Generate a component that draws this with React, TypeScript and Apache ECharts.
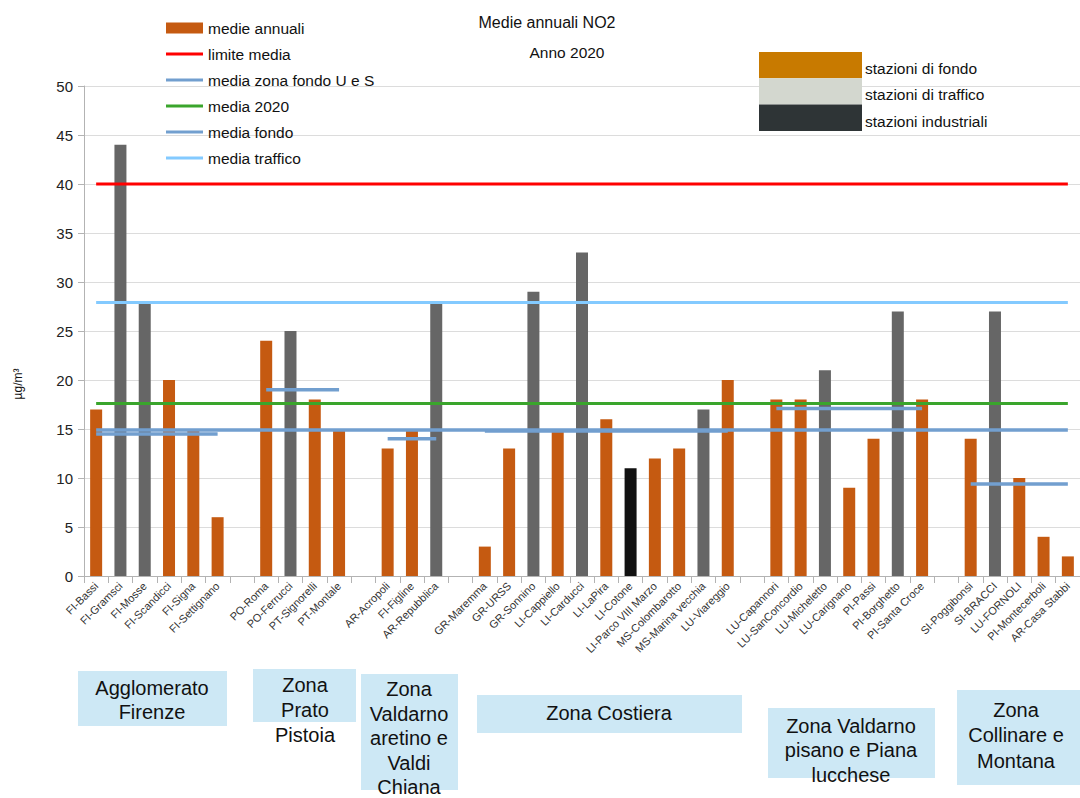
import React, { useEffect, useRef } from "react";
import * as echarts from "echarts";

const FONT = '"Liberation Sans", Arial, sans-serif';

const categories = [
  "FI-Bassi", "FI-Gramsci", "FI-Mosse", "FI-Scandicci", "FI-Signa", "FI-Settignano", "",
  "PO-Roma", "PO-Ferrucci", "PT-Signorelli", "PT-Montale", "",
  "AR-Acropoli", "FI-Figline", "AR-Repubblica", "",
  "GR-Maremma", "GR-URSS", "GR-Sonnino", "LI-Cappiello", "LI-Carducci", "LI-LaPira", "LI-Cotone",
  "LI-Parco VIII Marzo", "MS-Colombarotto", "MS-Marina vecchia", "LU-Viareggio", "",
  "LU-Capannori", "LU-SanConcordio", "LU-Micheletto", "LU-Carignano", "PI-Passi", "PI-Borghetto", "PI-Santa Croce", "",
  "SI-Poggibonsi", "SI-BRACCI", "LU-FORNOLI", "PI-Montecerboli", "AR-Casa Stabbi",
];

const annualMeans = [
  17, 44, 28, 20, 15, 6, null,
  24, 25, 18, 15, null,
  13, 15, 28, null,
  3, 13, 29, 15, 33, 16, 11, 12, 13, 17, 20, null,
  18, 18, 21, 9, 14, 27, 18, null,
  14, 27, 10, 4, 2,
];

// F = fondo, T = traffico, I = industriale
const stationTypes = [
  "F", "T", "T", "F", "F", "F", "",
  "F", "T", "F", "F", "",
  "F", "F", "T", "",
  "F", "F", "T", "F", "T", "F", "I", "F", "F", "T", "F", "",
  "F", "F", "T", "F", "F", "T", "F", "",
  "F", "T", "F", "F", "F",
];

const zoneBackgroundMeans = [
  14.5, 14.5, 14.5, 14.5, 14.5, 14.5, null,
  19, 19, 19, 19, null,
  14, 14, 14, null,
  14.8, 14.8, 14.8, 14.8, 14.8, 14.8, 14.8, 14.8, 14.8, 14.8, 14.8, null,
  17.1, 17.1, 17.1, 17.1, 17.1, 17.1, 17.1, null,
  9.4, 9.4, 9.4, 9.4, 9.4,
];

const LIMIT_MEAN = 40;
const MEAN_2020 = 17.6;
const MEAN_BACKGROUND = 14.9;
const MEAN_TRAFFIC = 27.9;

const yTicks = [0, 5, 10, 15, 20, 25, 30, 35, 40, 45, 50];

const typeColors: Record<string, string> = {
  F: "#c55a11",
  T: "#666666",
  I: "#111111",
};

const typeLegend = [
  { label: "stazioni di fondo", color: "#c87a00" },
  { label: "stazioni di traffico", color: "#d3d7cf" },
  { label: "stazioni industriali", color: "#2e3436" },
];

const zones = [
  { text: "Agglomerato\nFirenze", x: 78, y: 671, w: 149, h: 55, cx: 152, cy: 700, lh: 24 },
  { text: "Zona\nPrato\nPistoia", x: 253, y: 669, w: 103, h: 53, cx: 305, cy: 710, lh: 25 },
  { text: "Zona\nValdarno\naretino e\nValdi\nChiana", x: 361, y: 674, w: 97, h: 116, cx: 409, cy: 738, lh: 24.5 },
  { text: "Zona Costiera", x: 477, y: 695, w: 265, h: 38, cx: 609, cy: 713, lh: 24 },
  { text: "Zona Valdarno\npisano e Piana\nlucchese", x: 768, y: 708, w: 167, h: 70, cx: 851, cy: 750, lh: 24.5 },
  { text: "Zona\nCollinare e\nMontana", x: 957, y: 690, w: 123, h: 95, cx: 1016, cy: 735, lh: 25.5 },
];

const LINE_ICON = "path://M0,0H37V3H0Z";

export default function App() {
  const ref = useRef<HTMLDivElement>(null);

  useEffect(() => {
    if (!ref.current) return;
    const chart = echarts.init(ref.current, null, { renderer: "svg" });

    const constLine = (v: number) => categories.map(() => v);

    const graphics: any[] = [
      {
        type: "text",
        x: 547,
        y: 22,
        style: { text: "Medie annuali NO2", font: `16px ${FONT}`, fill: "#111", textAlign: "center", textVerticalAlign: "middle" },
      },
      {
        type: "text",
        x: 567,
        y: 52,
        style: { text: "Anno 2020", font: `15.5px ${FONT}`, fill: "#111", textAlign: "center", textVerticalAlign: "middle" },
      },
      {
        type: "text",
        x: 18,
        y: 384,
        rotation: Math.PI / 2,
        style: { text: "µg/m³", font: `12px ${FONT}`, fill: "#111", textAlign: "center", textVerticalAlign: "middle" },
      },
    ];

    typeLegend.forEach((t, i) => {
      graphics.push({
        type: "rect",
        shape: { x: 759, y: 52 + i * 26.3, width: 103, height: 26.3 },
        style: { fill: t.color },
        z: 10,
      });
      graphics.push({
        type: "text",
        x: 865,
        y: 68 + i * 26.5,
        style: { text: t.label, font: `15.5px ${FONT}`, fill: "#111", textVerticalAlign: "middle" },
        z: 10,
      });
    });

    zones.forEach((z) => {
      graphics.push({
        type: "rect",
        shape: { x: z.x, y: z.y, width: z.w, height: z.h },
        style: { fill: "#cde8f5" },
        z: 10,
      });
      graphics.push({
        type: "text",
        x: z.cx,
        y: z.cy,
        style: {
          text: z.text,
          font: `20px ${FONT}`,
          fill: "#111",
          textAlign: "center",
          textVerticalAlign: "middle",
          lineHeight: z.lh,
        },
        z: 11,
      });
    });

    const option: any = {
      animation: false,
      backgroundColor: "#ffffff",
      textStyle: { fontFamily: FONT },
      grid: { left: 84, right: -8, top: 86, bottom: 222, containLabel: false },
      legend: {
        orient: "vertical",
        left: 166,
        top: 20,
        padding: 0,
        itemWidth: 37,
        itemHeight: 11,
        itemGap: 10,
        textStyle: { fontSize: 15.5, color: "#111", fontFamily: FONT, lineHeight: 16 },
        data: [
          { name: "medie annuali", icon: "rect", itemStyle: { color: "#c55a11" } },
          { name: "limite media", icon: LINE_ICON },
          { name: "media zona fondo U e S", icon: LINE_ICON },
          { name: "media 2020", icon: LINE_ICON },
          { name: "media fondo", icon: LINE_ICON },
          { name: "media traffico", icon: LINE_ICON },
        ],
      },
      xAxis: {
        type: "category",
        data: categories,
        boundaryGap: true,
        axisLine: { lineStyle: { color: "#b3b3b3", width: 1 } },
        axisTick: { show: true, length: 7, lineStyle: { color: "#b3b3b3" } },
        axisLabel: { interval: 0, rotate: 45, fontSize: 11, color: "#333", margin: 8, fontFamily: FONT },
        splitLine: { show: false },
      },
      yAxis: {
        type: "value",
        min: yTicks[0],
        max: yTicks[yTicks.length - 1],
        interval: 5,
        axisLine: { show: true, lineStyle: { color: "#b3b3b3" } },
        axisTick: { show: true, length: 6, inside: false, lineStyle: { color: "#b3b3b3" } },
        axisLabel: { fontSize: 15, color: "#222", margin: 11, fontFamily: FONT },
        splitLine: { show: true, lineStyle: { color: "#dcdcdc", width: 1 } },
      },
      series: [
        {
          name: "medie annuali",
          type: "bar",
          barWidth: 12,
          data: annualMeans.map((v, i) =>
            v === null ? null : { value: v, itemStyle: { color: typeColors[stationTypes[i]] } }
          ),
          itemStyle: { color: "#c55a11" },
          z: 2,
        },
        {
          name: "limite media",
          type: "line",
          data: constLine(LIMIT_MEAN),
          symbol: "none",
          lineStyle: { color: "#ff0000", width: 3 },
          itemStyle: { color: "#ff0000" },
          z: 5,
        },
        {
          name: "media zona fondo U e S",
          type: "line",
          data: zoneBackgroundMeans,
          connectNulls: false,
          symbol: "none",
          lineStyle: { color: "#729fcf", width: 3.5 },
          itemStyle: { color: "#729fcf" },
          z: 5,
        },
        {
          name: "media 2020",
          type: "line",
          data: constLine(MEAN_2020),
          symbol: "none",
          lineStyle: { color: "#3aa52c", width: 3 },
          itemStyle: { color: "#3aa52c" },
          z: 5,
        },
        {
          name: "media fondo",
          type: "line",
          data: constLine(MEAN_BACKGROUND),
          symbol: "none",
          lineStyle: { color: "#729fcf", width: 3.5 },
          itemStyle: { color: "#729fcf" },
          z: 5,
        },
        {
          name: "media traffico",
          type: "line",
          data: constLine(MEAN_TRAFFIC),
          symbol: "none",
          lineStyle: { color: "#83caff", width: 3 },
          itemStyle: { color: "#83caff" },
          z: 5,
        },
      ],
      graphic: graphics,
    };

    chart.setOption(option);
    return () => chart.dispose();
  }, []);

  return (
    <div
      ref={ref}
      style={{ position: "fixed", left: 0, top: 0, width: 1080, height: 798, background: "#fff" }}
    />
  );
}
